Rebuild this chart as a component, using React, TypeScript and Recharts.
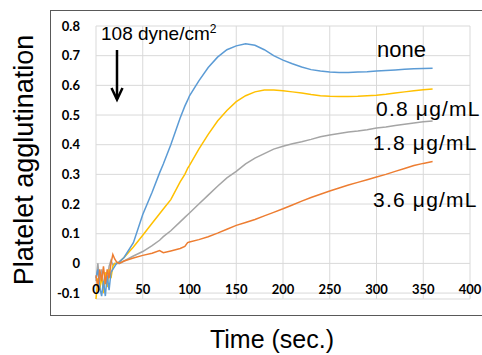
import React from 'react';
import { LineChart, Line, XAxis, YAxis, CartesianGrid } from 'recharts';

const times = [0, 2, 4, 6, 8, 10, 12, 14, 16, 18, 20, 22, 25, 30, 40, 50, 60, 68, 72, 80, 90, 95, 98, 100, 110, 120, 130, 140, 150, 160, 170, 180, 190, 200, 210, 220, 230, 240, 250, 260, 270, 280, 290, 300, 310, 320, 330, 340, 350, 360];

const noneVals = [-0.05, -0.02, -0.08, -0.11, -0.06, -0.11, -0.04, -0.09, -0.03, -0.02, -0.01, 0.0, 0.005, 0.02, 0.07, 0.165, 0.24, 0.305, 0.335, 0.4, 0.49, 0.53, 0.55, 0.565, 0.615, 0.66, 0.695, 0.72, 0.733, 0.74, 0.735, 0.72, 0.7, 0.685, 0.673, 0.662, 0.653, 0.648, 0.645, 0.643, 0.643, 0.645, 0.646, 0.648, 0.65, 0.652, 0.654, 0.656, 0.657, 0.658];

const dose08Vals = [-0.12, -0.05, -0.09, -0.04, -0.1, -0.03, -0.08, -0.02, -0.05, -0.01, 0.0, 0.0, 0.005, 0.02, 0.055, 0.095, 0.135, 0.167, 0.183, 0.215, 0.275, 0.3, 0.32, 0.33, 0.385, 0.435, 0.48, 0.515, 0.545, 0.565, 0.578, 0.584, 0.584, 0.582, 0.578, 0.574, 0.569, 0.565, 0.563, 0.562, 0.562, 0.563, 0.565, 0.567, 0.57, 0.574, 0.578, 0.582, 0.585, 0.588];

const dose18Vals = [-0.06, 0.0, -0.07, -0.02, -0.08, -0.03, -0.06, -0.01, 0.01, -0.005, 0.0, 0.0, 0.0, 0.008, 0.025, 0.04, 0.06, 0.078, 0.09, 0.11, 0.14, 0.155, 0.164, 0.17, 0.2, 0.23, 0.26, 0.288, 0.31, 0.335, 0.355, 0.37, 0.385, 0.395, 0.403, 0.41, 0.418, 0.427, 0.433, 0.438, 0.443, 0.446, 0.45, 0.456, 0.46, 0.465, 0.469, 0.473, 0.477, 0.48];

const dose36Vals = [-0.04, -0.08, -0.02, -0.06, -0.01, -0.07, -0.02, -0.05, 0.0, 0.03, 0.015, 0.005, 0.0, 0.008, 0.018, 0.027, 0.034, 0.043, 0.036, 0.042, 0.05, 0.057, 0.07, 0.072, 0.08, 0.09, 0.102, 0.115, 0.128, 0.138, 0.148, 0.16, 0.172, 0.184, 0.197, 0.21, 0.222, 0.233, 0.244, 0.254, 0.264, 0.273, 0.282, 0.291, 0.3, 0.31, 0.32, 0.33, 0.337, 0.343];

const xTicks = [0, 50, 100, 150, 200, 250, 300, 350, 400];
const yTicks = [-0.1, 0, 0.1, 0.2, 0.3, 0.4, 0.5, 0.6, 0.7, 0.8];
const yTickLabels = ['-0.1', '0', '0.1', '0.2', '0.3', '0.4', '0.5', '0.6', '0.7', '0.8'];

const seriesLabels = ['none', '0.8 μg/mL', '1.8 μg/mL', '3.6 μg/mL'];
const annotationText = '108 dyne/cm';
const xTitle = 'Time (sec.)';
const yTitle = 'Platelet agglutination';

const rows = times.map((t, i) => ({
  t,
  none: noneVals[i],
  d08: dose08Vals[i],
  d18: dose18Vals[i],
  d36: dose36Vals[i],
}));

const tickFont = { fontFamily: 'Lato, "Open Sans", sans-serif', fontWeight: 700, fontSize: 13, fill: '#000' };
const labelFont = 'Liberation Sans, Arial, sans-serif';

const XTick = (props: any) => {
  const { x, y, payload } = props;
  return (
    <text x={x} y={y - 5} textAnchor="middle" {...tickFont}>
      {payload.value}
    </text>
  );
};

const yFmt = (v: number) => {
  const i = yTicks.findIndex((t) => Math.abs(t - v) < 1e-9);
  return i >= 0 ? yTickLabels[i] : String(v);
};

export default function App() {
  return (
    <div style={{ position: 'absolute', left: 0, top: 0, width: 482, height: 355, overflow: 'hidden', background: '#fff' }}>
      <LineChart width={482} height={355} data={rows} margin={{ top: 26, right: 12, bottom: 26, left: 50 }}>
        <CartesianGrid stroke="#D9D9D9" strokeWidth={1} />
        <XAxis
          dataKey="t"
          type="number"
          domain={[0, 400]}
          ticks={xTicks}
          interval={0}
          axisLine={false}
          tickLine={false}
          tickSize={0}
          tickMargin={0}
          height={30}
          tick={<XTick />}
        />
        <YAxis
          type="number"
          domain={[-0.1, 0.8]}
          ticks={yTicks}
          interval={0}
          axisLine={false}
          tickLine={false}
          tickSize={0}
          tickMargin={16}
          width={46}
          tick={tickFont}
          tickFormatter={yFmt}
        />
        <Line dataKey="d18" stroke="#A5A5A5" strokeWidth={1.5} dot={false} isAnimationActive={false} type="linear" />
        <Line dataKey="d08" stroke="#FFC000" strokeWidth={1.5} dot={false} isAnimationActive={false} type="linear" />
        <Line dataKey="none" stroke="#5B9BD5" strokeWidth={1.5} dot={false} isAnimationActive={false} type="linear" />
        <Line dataKey="d36" stroke="#ED7D31" strokeWidth={1.5} dot={false} isAnimationActive={false} type="linear" />
      </LineChart>
      <svg width={482} height={355} style={{ position: 'absolute', left: 0, top: 0, pointerEvents: 'none' }}>
        <rect x={50.5} y={10.5} width={460} height={305} fill="none" stroke="#595959" strokeWidth={1} />
        <text transform="translate(33,160) rotate(-90)" textAnchor="middle" fontSize={27} fontFamily={labelFont} fill="#000">
          {yTitle}
        </text>
        <text x={272} y={348} textAnchor="middle" fontSize={25} fontFamily={labelFont} fill="#000">
          {xTitle}
        </text>
        <text x={101} y={40} fontSize={19} fontFamily={labelFont} fill="#000">
          {annotationText}
          <tspan dy={-7} fontSize={12}>2</tspan>
        </text>
        <line x1={117} y1={50} x2={117} y2={99} stroke="#000" strokeWidth={2.5} />
        <polyline points="111.5,88 117,99.5 122.5,88" fill="none" stroke="#000" strokeWidth={2.5} />
        <text x={377} y={57} fontSize={22} fontFamily={labelFont} fill="#000">{seriesLabels[0]}</text>
        <text x={376} y={116} fontSize={21} letterSpacing={1.2} fontFamily={labelFont} fill="#000">{seriesLabels[1]}</text>
        <text x={373} y={150} fontSize={21} letterSpacing={1.2} fontFamily={labelFont} fill="#000">{seriesLabels[2]}</text>
        <text x={373} y={207} fontSize={21} letterSpacing={1.2} fontFamily={labelFont} fill="#000">{seriesLabels[3]}</text>
      </svg>
    </div>
  );
}
